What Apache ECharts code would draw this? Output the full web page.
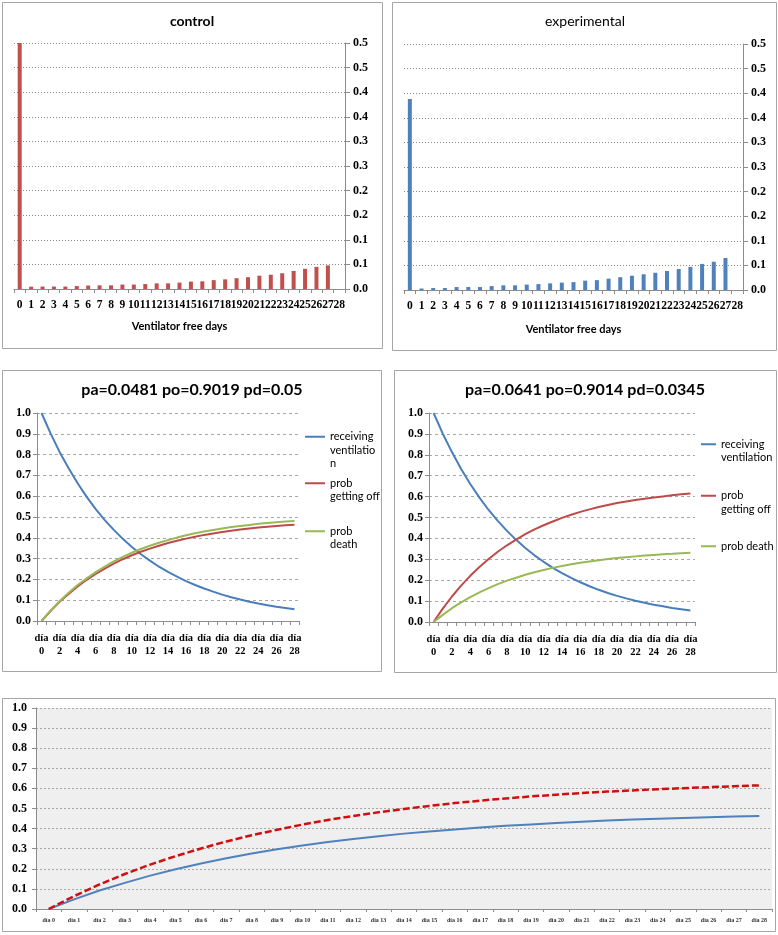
<!DOCTYPE html>
<html>
<head>
<meta charset="utf-8">
<script src="https://cdn.jsdelivr.net/npm/echarts@6/dist/echarts.min.js"></script>
<style>
html,body{margin:0;padding:0;background:#fff;}
#chart{width:778px;height:935px;}
</style>
</head>
<body>
<div id="chart"></div>
<script>
// ---- data ----
const vfdDays = ['0','1','2','3','4','5','6','7','8','9','10','11','12','13','14','15','16','17','18','19','20','21','22','23','24','25','26','27','28'];
const controlVfd = [0.5, 0.0047, 0.005, 0.005, 0.005, 0.006, 0.007, 0.0075, 0.0075, 0.009, 0.009, 0.010, 0.0115, 0.0115, 0.013, 0.015, 0.0156, 0.018, 0.0196, 0.022, 0.024, 0.027, 0.029, 0.032, 0.0366, 0.041, 0.045, 0.048, 0];
const experimentalVfd = [0.388, 0.003, 0.004, 0.004, 0.006, 0.006, 0.006, 0.008, 0.0095, 0.0095, 0.011, 0.012, 0.0135, 0.015, 0.016, 0.019, 0.020, 0.023, 0.026, 0.029, 0.032, 0.035, 0.0386, 0.0426, 0.047, 0.053, 0.0575, 0.065, 0];
const barTicks = ['0.0','0.1','0.1','0.2','0.2','0.3','0.3','0.4','0.4','0.5','0.5'];
const probTicks = ['0.0','0.1','0.2','0.3','0.4','0.5','0.6','0.7','0.8','0.9','1.0'];
const days = ['día 0','día 1','día 2','día 3','día 4','día 5','día 6','día 7','día 8','día 9','día 10','día 11','día 12','día 13','día 14','día 15','día 16','día 17','día 18','día 19','día 20','día 21','día 22','día 23','día 24','día 25','día 26','día 27','día 28'];
const ctrlVent  = [1.000, 0.902, 0.813, 0.734, 0.662, 0.597, 0.538, 0.485, 0.438, 0.395, 0.356, 0.321, 0.290, 0.261, 0.236, 0.213, 0.192, 0.173, 0.156, 0.141, 0.127, 0.114, 0.103, 0.093, 0.084, 0.076, 0.068, 0.062, 0.056];
const ctrlOff   = [0, 0.048, 0.092, 0.130, 0.166, 0.198, 0.226, 0.252, 0.276, 0.297, 0.316, 0.333, 0.348, 0.362, 0.375, 0.386, 0.396, 0.405, 0.414, 0.421, 0.428, 0.434, 0.440, 0.445, 0.449, 0.453, 0.457, 0.460, 0.463];
const ctrlDeath = [0, 0.050, 0.095, 0.136, 0.173, 0.205, 0.235, 0.262, 0.287, 0.308, 0.328, 0.346, 0.362, 0.376, 0.389, 0.401, 0.412, 0.422, 0.430, 0.438, 0.445, 0.452, 0.457, 0.462, 0.467, 0.471, 0.475, 0.478, 0.481];
const expVent   = [1.000, 0.901, 0.813, 0.732, 0.660, 0.595, 0.536, 0.484, 0.436, 0.393, 0.354, 0.319, 0.288, 0.259, 0.234, 0.211, 0.190, 0.171, 0.154, 0.139, 0.125, 0.113, 0.102, 0.092, 0.083, 0.075, 0.067, 0.061, 0.055];
const expOff    = [0, 0.064, 0.122, 0.174, 0.221, 0.263, 0.301, 0.336, 0.367, 0.394, 0.420, 0.443, 0.463, 0.481, 0.498, 0.513, 0.527, 0.539, 0.550, 0.560, 0.569, 0.577, 0.584, 0.590, 0.596, 0.601, 0.606, 0.611, 0.615];
const expDeath  = [0, 0.034, 0.066, 0.094, 0.119, 0.142, 0.162, 0.181, 0.198, 0.212, 0.226, 0.238, 0.249, 0.259, 0.268, 0.276, 0.283, 0.290, 0.296, 0.301, 0.306, 0.310, 0.314, 0.318, 0.321, 0.324, 0.326, 0.329, 0.331];

// ---- styles ----
const NUM_FONT = 'Liberation Serif';
const TXT_FONT = 'Lato';
const AXIS_GRAY = '#8c8c8c';
const C_BLUE = '#4a7ebb', C_RED = '#be4b48', C_GREEN = '#98b954';

function barX(idx){
  return {
    type:'category', gridIndex:idx, data:vfdDays, boundaryGap:true,
    axisLine:{lineStyle:{color:AXIS_GRAY}},
    axisTick:{show:true, interval:0, length:4, lineStyle:{color:AXIS_GRAY}},
    axisLabel:{interval:0, margin:10, color:'#000', fontFamily:NUM_FONT, fontWeight:'bold', fontSize:11.5, hideOverlap:false},
    name:'Ventilator free days', nameLocation:'middle', nameGap:idx===0?32:34,
    nameTextStyle:{fontFamily:TXT_FONT, fontWeight:'bold', fontSize:11, color:'#000'}
  };
}
function barY(idx){
  return {
    type:'value', gridIndex:idx, position:'right', min:0, max:0.5, interval:0.05,
    axisLine:{show:true, lineStyle:{color:AXIS_GRAY}},
    axisTick:{show:true, length:5, lineStyle:{color:AXIS_GRAY}},
    axisLabel:{margin:8, color:'#000', fontFamily:NUM_FONT, fontWeight:'bold', fontSize:12,
      formatter:v=>barTicks[Math.round(v/0.05)]},
    splitLine:{show:true, lineStyle:{color:'#8a8a8a', type:[1,2], width:1}}
  };
}
function dayX(idx, small){
  return {
    type:'category', gridIndex:idx, data:days, boundaryGap:true,
    axisLine:{lineStyle:{color:AXIS_GRAY}},
    axisTick:{show:true, interval:0, length:small?3:4, lineStyle:{color:AXIS_GRAY}},
    axisLabel: small ?
      {interval:0, margin:8, color:'#333', fontFamily:NUM_FONT, fontWeight:'bold', fontSize:6} :
      {interval:1, margin:11, color:'#000', fontFamily:NUM_FONT, fontWeight:'bold', fontSize:10.5, lineHeight:13,
       formatter:v=>v.replace(' ','\n')}
  };
}
function probY(idx, dotted){
  return {
    type:'value', gridIndex:idx, min:0, max:1, interval:0.1,
    axisLine:{show:true, lineStyle:{color:AXIS_GRAY}},
    axisTick:{show:true, length:4, lineStyle:{color:AXIS_GRAY}},
    axisLabel:{margin:dotted?9:6, color:'#000', fontFamily:NUM_FONT, fontWeight:'bold', fontSize:12,
      formatter:v=>probTicks[Math.round(v*10)]},
    splitLine:{show:true, lineStyle:{color:'#a8a8a8', type:dotted?[2,2]:[3,3], width:1}}
  };
}
function line(name, data, idx, color, extra){
  return Object.assign({
    type:'line', name:name, data:data, xAxisIndex:idx, yAxisIndex:idx,
    showSymbol:false, symbol:'none', smooth:false, animation:false,
    lineStyle:{color:color, width:2}, itemStyle:{color:color}
  }, extra||{});
}
function legendItem(name, left, top, text){
  return {
    data:[name], orient:'vertical', left:left, top:top, padding:0,
    icon:'rect', itemWidth:left>600?15:20, itemHeight:2, selectedMode:false,
    formatter:()=>text,
    textStyle:{fontFamily:TXT_FONT, fontSize:11, color:'#000', lineHeight:13.5}
  };
}

const option = {
  animation:false,
  graphic:[
    {type:'rect', shape:{x:2.5,y:2.5,width:380,height:346}, style:{fill:'none', stroke:'#a6a6a6', lineWidth:1}, silent:true},
    {type:'rect', shape:{x:392.5,y:2.5,width:384,height:348}, style:{fill:'none', stroke:'#a6a6a6', lineWidth:1}, silent:true},
    {type:'rect', shape:{x:2.5,y:370.5,width:379,height:301}, style:{fill:'none', stroke:'#a6a6a6', lineWidth:1}, silent:true},
    {type:'rect', shape:{x:394.5,y:370.5,width:382,height:302}, style:{fill:'none', stroke:'#a6a6a6', lineWidth:1}, silent:true},
    {type:'rect', shape:{x:2.5,y:698.5,width:773,height:233}, style:{fill:'none', stroke:'#a6a6a6', lineWidth:1}, silent:true}
  ],
  title:[
    {text:'control', left:192, top:21, textAlign:'center', textVerticalAlign:'middle', padding:0,
     textStyle:{fontFamily:TXT_FONT, fontWeight:'bold', fontSize:14, color:'#000'}},
    {text:'experimental', left:585, top:21, textAlign:'center', textVerticalAlign:'middle', padding:0,
     textStyle:{fontFamily:TXT_FONT, fontWeight:'normal', fontSize:14, color:'#000'}},
    {text:'pa=0.0481 po=0.9019 pd=0.05', left:192, top:390, textAlign:'center', textVerticalAlign:'middle', padding:0,
     textStyle:{fontFamily:TXT_FONT, fontWeight:'bold', fontSize:16, color:'#000'}},
    {text:'pa=0.0641 po=0.9014 pd=0.0345', left:585, top:390, textAlign:'center', textVerticalAlign:'middle', padding:0,
     textStyle:{fontFamily:TXT_FONT, fontWeight:'bold', fontSize:16, color:'#000'}}
  ],
  legend:[
    legendItem('receiving ventilation', 305, 403, '\n\nreceiving\nventilatio\nn'),
    legendItem('prob getting off', 305, 463, '\nprob\ngetting off'),
    legendItem('prob death', 305, 511, '\nprob\ndeath'),
    legendItem('receiving ventilation', 701, 424, '\nreceiving\nventilation'),
    legendItem('prob getting off', 701, 475.5, '\nprob\ngetting off'),
    legendItem('prob death', 701, 539.5, 'prob death')
  ],
  grid:[
    {left:14, top:43, width:331, height:246},
    {left:404, top:44, width:339, height:246},
    {left:37, top:413, width:262, height:208},
    {left:429, top:413, width:266, height:209},
    {left:36, top:708, width:736, height:201, show:true, backgroundColor:'#efefef', borderWidth:0}
  ],
  xAxis:[barX(0), barX(1), dayX(2,false), dayX(3,false), dayX(4,true)],
  yAxis:[barY(0), barY(1), probY(2,false), probY(3,false), probY(4,true)],
  series:[
    {type:'bar', name:'control', data:controlVfd, xAxisIndex:0, yAxisIndex:0, barWidth:4, itemStyle:{color:'#c0504d'}},
    {type:'bar', name:'experimental', data:experimentalVfd, xAxisIndex:1, yAxisIndex:1, barWidth:4, itemStyle:{color:'#4f81bd'}},
    line('receiving ventilation', ctrlVent, 2, C_BLUE),
    line('prob getting off', ctrlOff, 2, C_RED),
    line('prob death', ctrlDeath, 2, C_GREEN),
    line('receiving ventilation', expVent, 3, C_BLUE),
    line('prob getting off', expOff, 3, C_RED),
    line('prob death', expDeath, 3, C_GREEN),
    line('control getting off', ctrlOff, 4, '#4f81bd'),
    line('experimental getting off', expOff, 4, '#d01010', {lineStyle:{color:'#d01010', width:2.5, type:[7,3]}})
  ]
};
const chart = echarts.init(document.getElementById('chart'));
chart.setOption(option);
</script>
</body>
</html>
